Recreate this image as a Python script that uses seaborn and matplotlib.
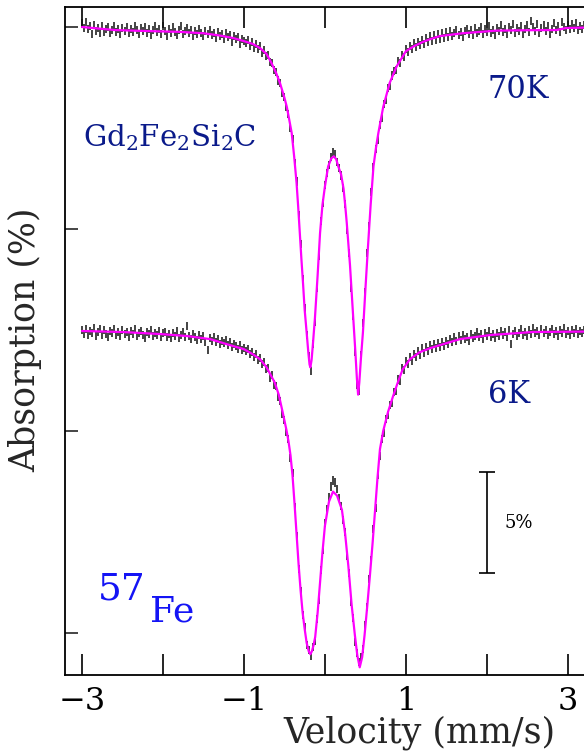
import numpy as np
import pandas as pd
import matplotlib
matplotlib.use("Agg")
import matplotlib.pyplot as plt
import seaborn as sns

# ---------------- data (absorption in %, velocity in mm/s) ----------------
vel_first = -3.0
vel_step = 0.025

abs_70K = [
    0.20, -0.05, 0.25, -0.10, 0.05, -0.35, 0.10, -0.20, -0.05, -0.30,
    0.05, -0.25, -0.10, 0.00, -0.30, -0.15, 0.05, -0.25, -0.10, -0.35,
    -0.05, -0.20, 0.00, -0.30, -0.10, -0.25, 0.05, -0.15, -0.35, -0.05,
    -0.20, 0.00, -0.30, -0.10, -0.40, -0.15, 0.05, -0.25, -0.10, -0.35,
    0.05,
    -0.20, -0.45, -0.10, -0.30, 0.00, -0.25, -0.40, -0.15, 0.05, -0.35,
    -0.20, -0.05, -0.30, -0.15, -0.45, -0.20, -0.35, -0.10, -0.30, -0.45,
    -0.20, -0.35, -0.15, -0.40, -0.30, -0.55, -0.25, -0.45, -0.35, -0.60,
    -0.30, -0.50, -0.40, -0.75, -0.45, -0.60, -0.50, -0.85, -0.60, -0.70,
    -0.80, -0.65, -0.95, -0.75, -1.05, -0.85, -1.10, -0.95, -1.30, -1.15,
    -1.45, -1.40, -1.75, -1.80, -2.15, -2.25, -2.65, -2.75, -3.25, -3.45,
    -3.95, -4.30, -5.00, -5.55, -6.75, -7.65, -9.30, -10.75, -12.50, -13.90,
    -15.25, -16.30, -17.05, -15.70, -14.60, -12.90, -11.35, -9.60, -8.70, -7.80,
    -7.25, -6.85, -6.45, -6.20, -6.30, -6.70, -7.00, -7.35, -7.95, -8.75,
    -10.05, -11.20, -12.90, -14.30, -16.10, -17.70, -18.00, -16.25, -14.65, -13.10,
    -11.20, -9.85, -8.15, -6.95, -6.05, -5.60, -4.85, -4.50, -3.80, -3.60,
    -3.00, -2.90, -2.40, -2.20, -2.15, -1.70, -1.80, -1.40, -1.50, -1.10,
    -1.25, -0.95, -1.10, -0.80, -1.00, -0.75, -0.90, -0.65, -0.85, -0.55,
    -0.75, -0.45, -0.70, -0.40, -0.65, -0.35, -0.60, -0.30, -0.55, -0.25,
    -0.50, -0.20, -0.45, -0.30, -0.15, -0.40, -0.25, -0.50, -0.20, -0.10,
    -0.35, -0.15, -0.40, -0.05, -0.30, -0.20, 0.00, -0.35, -0.10, -0.25,
    0.05, -0.30, -0.15, -0.40, -0.05, -0.20, 0.10, -0.25, -0.10, -0.35,
    0.00, -0.15, 0.15, -0.30, -0.05, -0.20, 0.05, -0.35, -0.10, 0.10,
    -0.25, 0.30, 0.00, -0.20, 0.15, -0.30, -0.05, 0.10, -0.20, 0.05,
    -0.35, -0.10, 0.20, -0.15, 0.05, -0.25, 0.25, 0.00, -0.15, 0.10,
    -0.10, 0.15, -0.05, 0.20, -0.15, 0.05, -0.10, 0.10,
]

abs_6K = [
    -15.00, -15.20, -14.95, -15.25, -15.05, -15.15, -14.90, -15.30, -15.10, -14.95,
    -15.25, -15.00, -15.20, -15.35, -15.05, -15.15, -14.95, -15.25, -15.10, -15.30,
    -15.00, -15.20, -15.10, -15.35, -15.05, -15.20, -14.95, -15.30, -15.15, -15.05,
    -15.25, -15.40, -15.10, -15.20, -15.00, -15.30, -15.15, -15.25, -15.05, -15.35,
    -15.15,
    -15.10, -15.35, -15.20, -15.40, -15.15, -15.30, -15.05, -15.40, -15.25, -15.10,
    -15.35, -14.80, -15.30, -15.45, -15.20, -15.35, -15.50, -15.25, -15.45, -15.30,
    -15.60, -16.00, -15.40, -15.55, -15.35, -15.60, -15.45, -15.70, -15.55, -15.65,
    -15.50, -15.75, -15.60, -15.85, -15.70, -15.80, -15.95, -15.75, -16.00, -15.90,
    -16.05, -15.95, -16.20, -16.10, -16.35, -16.20, -16.50, -16.40, -16.70, -16.60,
    -16.95, -16.90, -17.35, -17.25, -17.70, -17.75, -18.30, -18.50, -19.15, -19.45,
    -20.05, -20.40, -21.35, -22.10, -23.75, -25.20, -26.85, -27.90, -29.10, -29.70,
    -30.60, -30.85, -31.15, -30.70, -30.40, -29.30, -28.35, -26.90, -25.90, -24.55,
    -23.85, -23.25, -22.75, -22.45, -22.55, -22.85, -23.30, -23.70, -24.40, -25.00,
    -26.20, -27.05, -28.45, -29.25, -30.45, -31.00, -31.45, -31.20, -30.80, -29.60,
    -28.70, -27.35, -26.40, -24.85, -23.80, -22.20, -21.25, -20.40, -20.10, -19.40,
    -19.20, -18.70, -18.60, -18.05, -18.00, -17.45, -17.50, -16.90, -17.00, -16.55,
    -16.70, -16.35, -16.55, -16.20, -16.35, -16.05, -16.25, -15.90, -16.15, -15.85,
    -16.05, -15.75, -15.95, -15.70, -15.90, -15.65, -15.85, -15.60, -15.80, -15.55,
    -15.70, -15.45, -15.60, -15.35, -15.55, -15.30, -15.50, -15.25, -15.45, -15.35,
    -15.55, -15.20, -15.40, -15.30, -15.10, -15.35, -15.20, -15.45, -15.15, -15.30,
    -15.05, -15.35, -15.20, -15.40, -15.15, -15.30, -15.05, -15.25, -15.10, -15.35,
    -15.00, -15.70, -15.20, -15.05, -15.30, -15.15, -14.95, -15.25, -15.10, -15.30,
    -15.00, -15.20, -14.90, -15.15, -15.05, -15.25, -14.95, -15.15, -15.00, -15.25,
    -15.10, -14.95, -15.20, -15.05, -15.30, -15.00, -15.15, -14.90, -15.20, -15.05,
    -15.25, -15.00, -15.15, -14.95, -15.20, -15.05, -15.15, -15.00,
]

abs_err = 0.2

fit_vel_70K = [-3.0, -2.6, -2.2, -1.8, -1.5, -1.3, -1.13, -1.0, -0.89, -0.8, -0.72, -0.66,
               -0.6, -0.555, -0.5, -0.47, -0.44, -0.41, -0.38, -0.35, -0.33, -0.31, -0.29,
               -0.27, -0.25, -0.226, -0.205, -0.19, -0.18, -0.165, -0.15, -0.123, -0.09,
               -0.06, -0.03, 0.0, 0.04, 0.08, 0.11, 0.14, 0.165, 0.2, 0.23, 0.25, 0.27,
               0.31, 0.35, 0.375, 0.395, 0.41, 0.425, 0.445, 0.47, 0.5, 0.53, 0.565, 0.6,
               0.63, 0.66, 0.72, 0.8, 0.885, 1.0, 1.1, 1.21, 1.3, 1.42, 1.7, 2.12, 2.5,
               2.86, 2.98, 3.2]
fit_abs_70K = [0.0, -0.15, -0.2, -0.24, -0.31, -0.42, -0.55, -0.7, -0.84, -1.05, -1.34, -1.78,
               -2.3, -2.77, -3.5, -3.96, -4.6, -5.25, -6.4, -7.72, -8.9, -10.2, -11.5,
               -12.7, -14.0, -15.1, -16.1, -16.7, -16.85, -16.5, -15.8, -14.4, -12.3,
               -10.2, -8.8, -7.9, -6.9, -6.5, -6.4, -6.55, -6.9, -7.3, -8.0, -8.8, -9.7,
               -11.8, -14.4, -16.0, -17.4, -18.2, -17.6, -16.4, -15.1, -13.0, -11.0, -8.8, -6.9,
               -6.0, -5.25, -3.96, -2.77, -1.96, -1.2, -0.95, -0.74, -0.6, -0.45, -0.31, -0.18, -0.16,
               -0.15, -0.05, -0.03]

fit_vel_6K = [-3.0, -2.5, -2.04, -1.7, -1.42, -1.13, -1.0, -0.89, -0.8, -0.72, -0.62, -0.57,
              -0.52, -0.475, -0.45, -0.425, -0.4, -0.375, -0.35, -0.325, -0.3, -0.275, -0.25,
              -0.225, -0.2, -0.18, -0.16, -0.14, -0.12, -0.09, -0.06, -0.03, 0.0, 0.05, 0.1,
              0.15, 0.21, 0.25, 0.29, 0.33, 0.37, 0.4, 0.43, 0.46, 0.49, 0.52, 0.555, 0.59,
              0.62, 0.65, 0.68, 0.72, 0.78, 0.84, 0.9, 0.96, 1.05, 1.17, 1.3, 1.42, 1.67,
              2.04, 2.57, 3.2]
fit_abs_6K = [-15.05, -15.1, -15.2, -15.3, -15.45, -15.8, -15.95, -16.2, -16.45, -16.85, -17.6, -18.2,
              -19.1, -19.95, -20.5, -21.2, -22.2, -23.6, -25.1, -26.6, -27.9, -29.0, -29.8,
              -30.5, -30.9, -31.05, -30.9, -30.6, -30.2, -29.0, -27.5, -26.0, -24.7, -23.5, -23.0,
              -23.2, -23.9, -25.1, -26.7, -28.6, -30.1, -31.1, -31.7, -31.2, -30.1, -28.8, -27.2, -25.5,
              -23.9, -22.3, -20.9, -20.0, -19.05, -18.3, -17.6, -16.95, -16.45, -16.1, -15.9, -15.75, -15.45,
              -15.25, -15.1, -15.08]

x_ticks_major = [-3, -1, 1, 3]
x_ticks_minor = [-2, 0, 2]
y_ticks = [0, -10, -20, -30]
scale_bar_pct = 5.0

# ---------------- style ----------------
sns.set_theme(style="ticks")
plt.rcParams["font.family"] = ["DejaVu Serif"]
plt.rcParams["mathtext.fontset"] = "dejavuserif"
plt.rcParams["axes.unicode_minus"] = True

NAVY = "#0a1a8a"
BLUE = "#1414f5"
MAGENTA = "#ff00ff"

fig = plt.figure(figsize=(5.84, 7.53), dpi=100)
ax = fig.add_axes([65 / 584, 1 - 675 / 753, 519 / 584, 668 / 753])

vel_70K = np.round(vel_first + vel_step * np.arange(len(abs_70K)), 3)
vel_6K = np.round(vel_first + vel_step * np.arange(len(abs_6K)), 3)

for v, a in ((vel_70K, abs_70K), (vel_6K, abs_6K)):
    ax.errorbar(v, a, yerr=abs_err, fmt="none", ecolor="#111111", elinewidth=1.1, capsize=0, zorder=2)

fits = pd.concat([
    pd.DataFrame({"vel": fit_vel_70K, "abs": fit_abs_70K, "T": "70K"}),
    pd.DataFrame({"vel": fit_vel_6K, "abs": fit_abs_6K, "T": "6K"}),
])
sns.lineplot(data=fits, x="vel", y="abs", units="T", estimator=None, sort=False,
             color=MAGENTA, lw=1.6, ax=ax, legend=False, zorder=3)

ax.set_xlim(-3.21, 3.2)
ax.set_ylim(-32.08, 0.99)

ax.set_xticks(x_ticks_major)
ax.set_xticks(x_ticks_minor, minor=True)
ax.set_yticks(y_ticks)
ax.set_yticklabels([])
ax.tick_params(axis="x", which="both", direction="in", length=15, width=1.2,
               top=True, bottom=True, labelsize=23, pad=8, colors="black")
ax.tick_params(axis="y", which="both", direction="in", length=9, width=1.2,
               left=True, right=False)

for side in ("left", "bottom", "top"):
    ax.spines[side].set_linewidth(1.3)
    ax.spines[side].set_color("black")
ax.spines["right"].set_visible(False)

ax.set_xlabel("Velocity (mm/s)", fontsize=25, ha="center", va="center")
ax.xaxis.set_label_coords(0.682, -0.087)
ax.set_ylabel("Absorption (%)", fontsize=25, ha="center", va="center")
ax.yaxis.set_label_coords(-0.077, 0.5015)

# annotations
ax.text(-2.99, -5.5, "Gd$_2$Fe$_2$Si$_2$C", color=NAVY, fontsize=21, ha="left", va="center")
ax.text(2.01, -3.1, "70K", color=NAVY, fontsize=22, ha="left", va="center")
ax.text(2.01, -18.2, "6K", color=NAVY, fontsize=22, ha="left", va="center")
ax.text(-2.80, -27.87, "57", color=BLUE, fontsize=27, ha="left", va="center")
ax.text(-2.16, -28.96, "Fe", color=BLUE, fontsize=26, ha="left", va="center")

# 5% scale bar
ax.errorbar([2.0], [-24.55], yerr=[scale_bar_pct / 2], fmt="none", ecolor="black",
            elinewidth=1.2, capsize=6, capthick=1.2)
ax.text(2.22, -24.55, "5%", color="black", fontsize=13, ha="left", va="center")

fig.savefig("out.png", dpi=100)
